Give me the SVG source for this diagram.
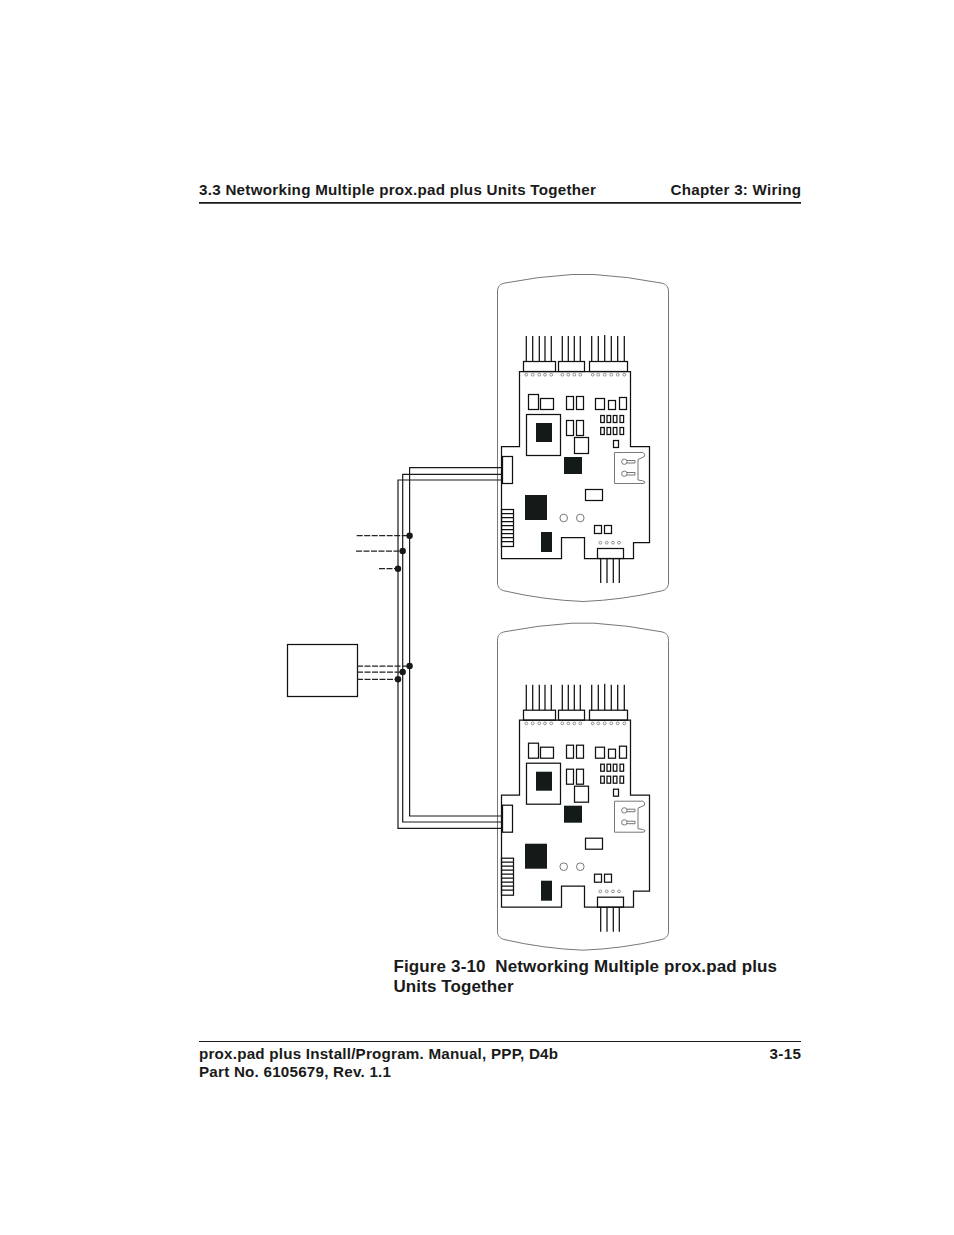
<svg xmlns="http://www.w3.org/2000/svg" width="954" height="1235" viewBox="0 0 954 1235">
<style>
text{font-family:"Liberation Sans",Arial,sans-serif;font-weight:bold;fill:#1a1a1a;white-space:pre}
.h{font-size:15.200px}
.c{font-size:17px}
.k{fill:none;stroke:#111;stroke-width:1.250}
.g{fill:none;stroke:#777;stroke-width:1}
.b{fill:#141a18;stroke:none}
.w{fill:none;stroke:#1a1a1a;stroke-width:1.200}
.d{fill:none;stroke:#222;stroke-width:1.250;stroke-dasharray:6 1.500}
.p{fill:#141a18}
</style>
<defs>
<g id="unit">
<path class="g" d="M497.500 292C497.500 286 500 284 505 283Q538 276.500 572 274.500H594Q628 276.500 661 283C666 284 668.500 286 668.500 292V583C668.500 587 666 590 661 591Q622 600 583 601.500Q544 600 505 591C500 590 497.500 587 497.500 583Z"/>
<path class="k" d="M519.500 371.500H630.500V446.500H649.500V542.500H633.500V558.500H584.500V537.500H561.500V558.500H501.500V446.500H519.500Z"/>
<g class="k">
<path d="M526.300 336V361.500M532.700 336V361.500M539.300 336V361.500M545 336V361.500M551.300 336V361.500M562.300 336V361.500M568.300 336V361.500M574.300 336V361.500M580.300 336V361.500M591.700 336V361.500M598.300 336V361.500M604.700 335V361.500M611.300 336V361.500M617.700 336V361.500M624.300 336V361.500"/>
<rect x="523.500" y="361.500" width="32" height="10"/><rect x="558.500" y="361.500" width="26" height="10"/><rect x="589.500" y="361.500" width="38" height="10"/>
<rect x="528.500" y="394.500" width="10" height="15"/><rect x="540.500" y="398.500" width="13" height="11"/>
<rect x="566.500" y="396.500" width="7" height="13"/><rect x="576.500" y="396.500" width="7" height="13"/>
<rect x="595.500" y="398.500" width="9" height="11"/><rect x="608.500" y="400.500" width="7" height="9"/><rect x="619.500" y="397.500" width="7" height="12"/>
<rect x="600.700" y="415.500" width="3.600" height="7"/><rect x="607" y="415.500" width="3.600" height="7"/><rect x="613.300" y="415.500" width="3.600" height="7"/><rect x="620" y="415.500" width="3.600" height="7"/>
<rect x="600.700" y="427.500" width="3.600" height="7"/><rect x="607" y="427.500" width="3.600" height="7"/><rect x="613.300" y="427.500" width="3.600" height="7"/><rect x="620" y="427.500" width="3.600" height="7"/>
<rect x="526.500" y="414.500" width="34" height="41"/>
<rect x="566.500" y="420.500" width="7" height="15"/><rect x="576.500" y="420.500" width="7" height="15"/>
<rect x="574.500" y="437.500" width="14" height="16"/><rect x="613.500" y="440.500" width="5" height="7"/>
<rect x="502.500" y="456.500" width="10" height="27"/>
<rect x="585.500" y="489.500" width="17" height="11"/>
<rect x="594.500" y="525.500" width="7" height="8"/><rect x="604.500" y="525.500" width="7" height="8"/>
<rect x="501.500" y="509.500" width="12" height="37"/>
<path d="M501.500 513.500H513.500M501.500 517.500H513.500M501.500 521.500H513.500M501.500 525.500H513.500M501.500 529.500H513.500M501.500 533.500H513.500M501.500 537.500H513.500M501.500 541.500H513.500"/>
<rect x="597.500" y="548.500" width="26" height="10"/>
<path d="M600.700 558.500V583M607 558.500V583M613.300 558.500V583M619.300 558.500V583"/>
</g>
<rect class="b" x="536" y="423" width="16" height="19"/>
<rect class="b" x="564" y="457" width="18" height="17"/>
<rect class="b" x="525" y="495" width="22" height="25"/>
<rect class="b" x="541" y="532" width="11" height="20"/>
<g class="g">
<path d="M614.500 452.500H643Q645.500 454 644.500 456.500L638 459.500V480Q644 480.500 645 482Q645 483.500 643 483.500H614.500Z"/>
<circle cx="624.300" cy="461.700" r="2.700"/><circle cx="624.300" cy="473.700" r="2.700"/>
<path d="M627 460.500H635V463H627M627 472.500H635V475H627"/>
<circle cx="563.700" cy="518" r="3.800"/><circle cx="580.300" cy="518" r="3.800"/>
<g stroke-width=".8">
<circle cx="526.300" cy="374.700" r="1.400"/><circle cx="532.700" cy="374.700" r="1.400"/><circle cx="539.300" cy="374.700" r="1.400"/><circle cx="545" cy="374.700" r="1.400"/><circle cx="551.300" cy="374.700" r="1.400"/>
<circle cx="562.300" cy="374.700" r="1.400"/><circle cx="568.300" cy="374.700" r="1.400"/><circle cx="574.300" cy="374.700" r="1.400"/><circle cx="580.300" cy="374.700" r="1.400"/>
<circle cx="592.700" cy="374.700" r="1.400"/><circle cx="598.300" cy="374.700" r="1.400"/><circle cx="604.700" cy="374.700" r="1.400"/><circle cx="611.300" cy="374.700" r="1.400"/><circle cx="617.700" cy="374.700" r="1.400"/><circle cx="624.300" cy="374.700" r="1.400"/>
<circle cx="600.300" cy="542.700" r="1.400"/><circle cx="606.700" cy="542.700" r="1.400"/><circle cx="613" cy="542.700" r="1.400"/><circle cx="619" cy="542.700" r="1.400"/>
</g>
</g>
</g>
</defs>
<rect width="954" height="1235" fill="#fff"/>
<g id="header">
<text class="h" x="199" y="195" textLength="397">3.3 Networking Multiple prox.pad plus Units Together</text>
<text class="h" x="670.500" y="195" textLength="130.500">Chapter 3: Wiring</text>
<path d="M199 202.800H801" stroke="#1a1a1a" stroke-width="1.800"/>
</g>
<g id="reader-1"><use href="#unit"/></g>
<g id="reader-2"><use href="#unit" y="348.700"/></g>
<g id="panel"><rect class="k" x="287.500" y="644.500" width="70" height="52"/></g>
<g id="connectors">
<path class="w" d="M501.500 467.700H409.600V816H501.500"/>
<path class="w" d="M501.500 474.300H402.700V822H501.500"/>
<path class="w" d="M501.500 480H398V828.300H501.500"/>
<path class="d" d="M356.700 535.700H409.600M356 551H402.700M379 568.500H398M357 666H409.600M357 672H402.700M357 679.300H398"/>
<circle class="p" cx="409.600" cy="535.700" r="3.200"/><circle class="p" cx="402.700" cy="551" r="3.200"/><circle class="p" cx="398" cy="568.700" r="3.200"/>
<circle class="p" cx="409.600" cy="666" r="3.200"/><circle class="p" cx="402.700" cy="672" r="3.200"/><circle class="p" cx="398" cy="679.300" r="3.200"/>
</g>
<g id="caption">
<text class="c" x="393.500" y="972" textLength="383.500">Figure 3-10  Networking Multiple prox.pad plus</text>
<text class="c" x="393.500" y="992" textLength="120">Units Together</text>
</g>
<g id="footer">
<path d="M199 1041.500H801" stroke="#1a1a1a" stroke-width="1"/>
<text class="h" x="199" y="1058.500" textLength="359">prox.pad plus Install/Program. Manual, PPP, D4b</text>
<text class="h" x="769.500" y="1058.500" textLength="31.500">3-15</text>
<text class="h" x="199" y="1076.500" textLength="192">Part No. 6105679, Rev. 1.1</text>
</g>
</svg>
